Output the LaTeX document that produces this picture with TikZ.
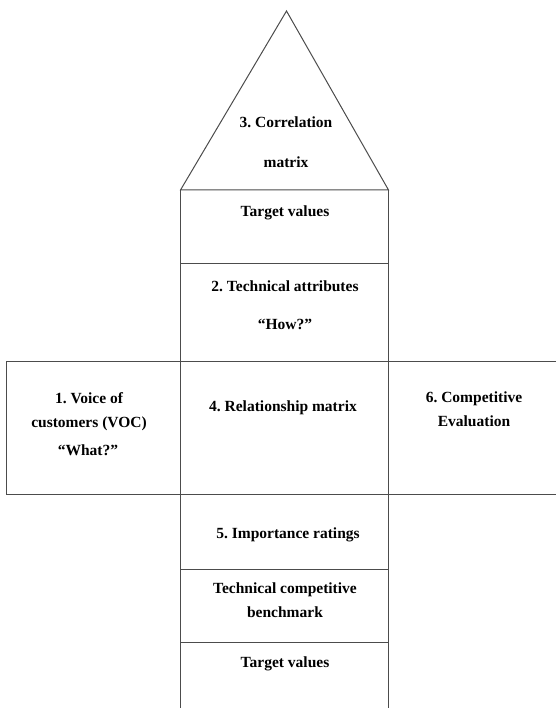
\documentclass[tikz,border=0pt]{standalone}
\usepackage{fontspec}
\setmainfont{Liberation Serif}
\usetikzlibrary{positioning}
\definecolor{edgeColor}{rgb}{0.3,0.3,0.3}
\frenchspacing

\begin{document}
\begin{tikzpicture}[x=1pt,y=-1pt]

  \tikzstyle{houseEdge} = [line width=1pt, edgeColor];
  \tikzstyle{houseText} = [anchor=base, inner sep=0pt, font=\fontsize{15.5}{18}\selectfont\bfseries];

  \useasboundingbox (0,0) rectangle (556,708);

  % roof and columns
  \coordinate (apex) at (286.5,11);
  \coordinate (roofL) at (180.5,190);
  \coordinate (roofR) at (388.5,190);
  \coordinate (footL) at (180.5,708);
  \coordinate (footR) at (388.5,708);
  \coordinate (wingTL) at (6,361);
  \coordinate (wingBL) at (6,494);
  \coordinate (wingTR) at (556,361);
  \coordinate (wingBR) at (556,494);

  \draw[houseEdge] (roofL) -- (apex) -- (roofR) -- cycle;
  \draw[houseEdge] (roofL) -- (footL);
  \draw[houseEdge] (roofR) -- (footR);
  \draw[houseEdge] (wingTR) -- (wingTL) -- (wingBL) -- (wingBR);
  \draw[houseEdge] (180.5,263.5) -- (388.5,263.5);
  \draw[houseEdge] (180.5,569) -- (388.5,569);
  \draw[houseEdge] (180.5,642.5) -- (388.5,642.5);

  % labels
  \node[houseText] (corr) at (286,127.5) {3. Correlation};
  \node[houseText] (corrb) at (286,168) {matrix};
  \node[houseText] (target) at (285,216.5) {Target values};
  \node[houseText] (tech) at (285,291) {2. Technical attributes};
  \node[houseText] (how) at (285,329) {“How?”};
  \node[houseText] (voc) at (89,403) {1. Voice of};
  \node[houseText] (vocb) at (89,427) {customers (VOC)};
  \node[houseText] (what) at (88,455) {“What?”};
  \node[houseText] (rel) at (283,411.5) {4. Relationship matrix};
  \node[houseText] (comp) at (474,402) {6. Competitive};
  \node[houseText] (compb) at (474,426) {Evaluation};
  \node[houseText] (imp) at (288,538) {5. Importance ratings};
  \node[houseText] (bench) at (285,593) {Technical competitive};
  \node[houseText] (benchb) at (285,617) {benchmark};
  \node[houseText] (targetb) at (285,667) {Target values};
\end{tikzpicture}
\end{document}
